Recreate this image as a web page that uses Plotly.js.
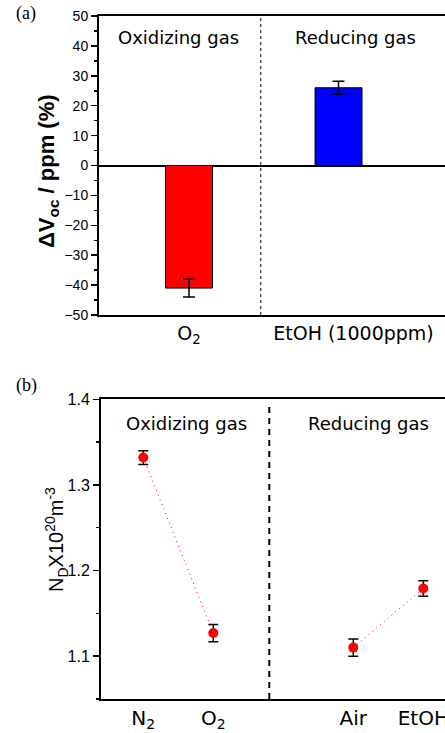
<!DOCTYPE html>
<html>
<head>
<meta charset="utf-8">
<script src="https://cdn.plot.ly/plotly-3.0.1.min.js"></script>
<style>html,body{margin:0;padding:0;background:#fff;}#chart{width:445px;height:733px;}</style>
</head>
<body>
<div id="chart"></div>
<script>
// ---- Data: panel (a) ----
const gasA = ['O<sub>2</sub>', 'EtOH (1000ppm)'];
const dVoc = [-41, 26];
const dVocErr = [3, 2.2];
// ---- Data: panel (b) ----
const gasB = ['N<sub>2</sub>', 'O<sub>2</sub>', 'Air', 'EtOH'];
const nd = [1.332, 1.127, 1.110, 1.179];
const ndErr = [0.008, 0.010, 0.010, 0.009];
const groupLabels = ['Oxidizing gas', 'Reducing gas'];

// layout positions (not data)
const posA = [1, 2];
const posB = [1, 2, 4, 5];
const W = 445, H = 733;
const px = v => v / W;
const py = v => 1 - v / H;

const ARIAL = 'Arial, "Liberation Sans", sans-serif';
const DEJA = '"DejaVu Sans", Verdana, sans-serif';

const dotLine = {color: '#ff0000', width: 1, dash: '1px,4px'};

const traces = [
  {
    type: 'bar', x: posA, y: dVoc, width: 0.314, xaxis: 'x', yaxis: 'y',
    marker: {color: ['#ff0000', '#0000ff'], line: {color: '#000', width: 1}},
    error_y: {type: 'data', array: dVocErr, visible: true, color: '#000', thickness: 1.5, width: 6},
    hoverinfo: 'skip', showlegend: false
  },
  {
    type: 'scatter', mode: 'lines+markers', x: posB.slice(0, 2), y: nd.slice(0, 2), xaxis: 'x2', yaxis: 'y2',
    line: dotLine,
    marker: {color: '#ff0000', size: 10},
    error_y: {type: 'data', array: ndErr.slice(0, 2), visible: true, color: '#000', thickness: 1.5, width: 5},
    showlegend: false, hoverinfo: 'skip'
  },
  {
    type: 'scatter', mode: 'lines+markers', x: posB.slice(2), y: nd.slice(2), xaxis: 'x2', yaxis: 'y2',
    line: dotLine,
    marker: {color: '#ff0000', size: 10},
    error_y: {type: 'data', array: ndErr.slice(2), visible: true, color: '#000', thickness: 1.5, width: 5},
    showlegend: false, hoverinfo: 'skip'
  }
];

function ann(text, x, y, font, extra) {
  return Object.assign({text: text, xref: 'paper', yref: 'paper', x: px(x), y: py(y),
    xanchor: 'center', yanchor: 'middle', showarrow: false, font: font}, extra || {});
}

const layout = {
  width: W, height: H,
  margin: {l: 0, r: 0, t: 0, b: 0},
  paper_bgcolor: '#fff', plot_bgcolor: '#fff',
  showlegend: false,
  xaxis: {
    domain: [px(99), 1], range: [0.398, 2.712], anchor: 'y',
    showgrid: false, zeroline: false, showline: true, linecolor: '#000', linewidth: 2, mirror: true,
    tickvals: [posA[0], posA[1] + 0.1], ticktext: gasA, ticks: '', ticklabeloverflow: 'allow',
    tickfont: {family: DEJA, size: 19, color: '#000'}, ticklabelstandoff: 0
  },
  yaxis: {
    domain: [py(315), py(16)], range: [-50, 50], anchor: 'x',
    showgrid: false, zeroline: true, zerolinecolor: '#000', zerolinewidth: 2,
    showline: true, linecolor: '#000', linewidth: 2,
    dtick: 10, ticks: 'outside', ticklen: 6, tickwidth: 1.5, tickcolor: '#000',
    minor: {dtick: 5, ticks: 'outside', ticklen: 3, tickwidth: 1.5, tickcolor: '#000'},
    tickfont: {family: ARIAL, size: 14, color: '#000'}
  },
  xaxis2: {
    domain: [px(101), 1], range: [0.396, 5.31], anchor: 'y2',
    showgrid: false, zeroline: false, showline: true, linecolor: '#000', linewidth: 2, mirror: true,
    tickvals: posB, ticktext: gasB, ticks: '', ticklabeloverflow: 'allow',
    tickfont: {family: DEJA, size: 20, color: '#000'}, ticklabelstandoff: 0
  },
  yaxis2: {
    domain: [py(699), py(399.3)], range: [1.05, 1.4], anchor: 'x2',
    showgrid: false, zeroline: false, showline: true, linecolor: '#000', linewidth: 2,
    tick0: 1.1, dtick: 0.1, tickformat: '.1f', ticks: 'outside', ticklen: 6, tickwidth: 1.5, tickcolor: '#000',
    minor: {dtick: 0.05, ticks: 'outside', ticklen: 3, tickwidth: 1.5, tickcolor: '#000'},
    tickfont: {family: ARIAL, size: 16, color: '#000'}
  },
  shapes: [
    {type: 'line', xref: 'x', yref: 'y domain', x0: 1.48, x1: 1.48, y0: 0, y1: 1,
     line: {color: '#000', width: 1, dash: 'dot'}},
    {type: 'line', xref: 'x2', yref: 'y2 domain', x0: 2.8, x1: 2.8, y0: 0, y1: 0.98,
     line: {color: '#000', width: 2, dash: '6px,5px'}}
  ],
  annotations: [
    ann('(a)', 26, 14, {family: '"Liberation Serif", "Times New Roman", serif', size: 18, color: '#000'}),
    ann('(b)', 26, 385, {family: '"Liberation Serif", "Times New Roman", serif', size: 18, color: '#000'}),
    ann(groupLabels[0], 178, 38, {family: DEJA, size: 18, color: '#000'}),
    ann(groupLabels[1], 355.5, 38, {family: DEJA, size: 18, color: '#000'}),
    ann(groupLabels[0], 186, 423, {family: DEJA, size: 18, color: '#000'}),
    ann(groupLabels[1], 368.5, 423, {family: DEJA, size: 18, color: '#000'}),
    ann('<b>\u0394V<sub>oc</sub> / ppm (%)</b>', 48, 171, {family: ARIAL, size: 22, color: '#000'}, {textangle: -90}),
    ann('N<sub>D</sub>X10<sup>20</sup>m<sup>-3</sup>', 56, 540, {family: ARIAL, size: 20, color: '#000'}, {textangle: -90})
  ]
};

Plotly.newPlot('chart', traces, layout, {displayModeBar: false, staticPlot: true});
</script>
</body>
</html>
